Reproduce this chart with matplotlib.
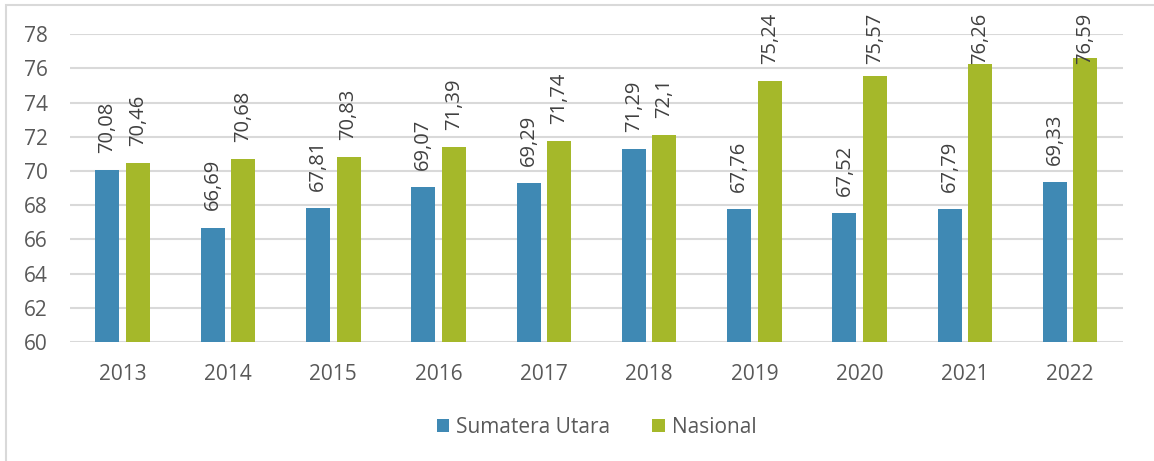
import matplotlib.pyplot as plt
import numpy as np
from matplotlib.patches import Rectangle

tahun = ['2013', '2014', '2015', '2016', '2017', '2018', '2019', '2020', '2021', '2022']
sumut = [70.08, 66.69, 67.81, 69.07, 69.29, 71.29, 67.76, 67.52, 67.79, 69.33]
nasional = [70.46, 70.68, 70.83, 71.39, 71.74, 72.1, 75.24, 75.57, 76.26, 76.59]

plt.rcParams['font.family'] = ['Open Sans', 'DejaVu Sans']

warna_sumut = '#3F89B4'
warna_nas = '#A5B82A'
abu = '#595959'

fig = plt.figure(figsize=(11.54, 4.61), dpi=100)
ax = fig.add_axes([0.0607, 0.258, 0.9123, 0.668])

x = np.arange(len(tahun))
lebar = 0.228
geser = 0.145

b1 = ax.bar(x - geser, sumut, lebar, color=warna_sumut, label='Sumatera Utara', zorder=3)
b2 = ax.bar(x + geser, nasional, lebar, color=warna_nas, label='Nasional', zorder=3)

# label nilai vertikal di atas batang, pakai koma desimal
def fmt(v):
    s = ('%.2f' % v).rstrip('0').rstrip('.')
    return s.replace('.', ',')

# label yang terlalu tinggi ditahan supaya tetap di dalam bingkai
batas_label = 76.25
for bars, vals in ((b1, sumut), (b2, nasional)):
    for b, v in zip(bars, vals):
        ax.text(b.get_x() + b.get_width() / 2, min(v + 1.0, batas_label), fmt(v),
                rotation=90, ha='center', va='bottom', fontsize=14.5,
                color='#404040', clip_on=False, zorder=4)

ax.set_ylim(60, 78)
ax.set_xlim(-0.5, len(tahun) - 0.5)
ax.set_yticks(range(60, 79, 2))
ax.set_xticks(x)
ax.set_xticklabels(tahun)
ax.tick_params(length=0, labelsize=15, colors=abu)
ax.tick_params(axis='x', pad=16)
ax.tick_params(axis='y', pad=16)
ax.grid(axis='y', color='#D9D9D9', linewidth=1.5, zorder=0)
for s in ax.spines.values():
    s.set_visible(False)

leg = fig.legend(loc='center', bbox_to_anchor=(0.517, 0.073), ncol=2, frameon=False,
                 fontsize=15, handlelength=0.6, handleheight=0.6, columnspacing=2.0,
                 handletextpad=0.35)
for t in leg.get_texts():
    t.set_color(abu)

# bingkai tipis di sekeliling grafik
fig.patches.append(Rectangle((6 / 1154, -0.02), 1.02, 1 - 5 / 461 + 0.02,
                             transform=fig.transFigure, fill=False,
                             edgecolor='#D9D9D9', linewidth=1.5))

fig.savefig('out.png', dpi=100, facecolor='white')
